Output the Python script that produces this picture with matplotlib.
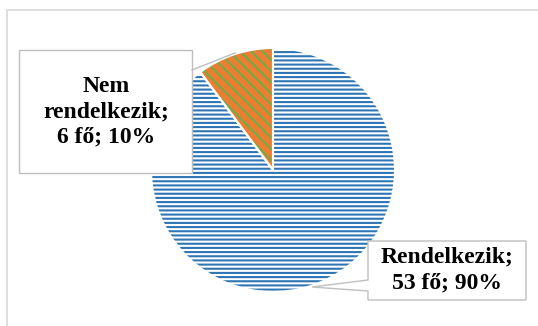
import matplotlib
matplotlib.use("Agg")
import matplotlib.pyplot as plt
from matplotlib.patches import Polygon, Rectangle

# answers: has / does not have
categories = ["Rendelkezik", "Nem rendelkezik"]
counts = [53, 6]
label_lines = [["Rendelkezik;"], ["Nem", "rendelkezik;"]]

BLUE = "#2E75B6"
ORANGE = "#ED7D31"
GREEN = "#70AD47"
BOX_EDGE = "#BFBFBF"
FRAME = "#D9D9D9"

W, H = 538, 326
plt.rcParams["hatch.linewidth"] = 1.5

fig = plt.figure(figsize=(W / 100, H / 100), dpi=100)
fig.patch.set_facecolor("white")
ax = fig.add_axes([0, 0, 1, 1])


def py(y):
    # pixel row (top-down) -> data y (bottom-up)
    return H - y


center = (273, py(170))
radius = 122

# hatched wedges; edgecolor drives the hatch colour
wedges, _ = ax.pie(counts, startangle=90, counterclock=False, center=center,
                   radius=radius, colors=["white", ORANGE],
                   wedgeprops=dict(linewidth=0))
wedges[0].set_edgecolor(BLUE)
wedges[0].set_hatch("----")
wedges[1].set_edgecolor(GREEN)
wedges[1].set_hatch("\\\\\\")

# white separators on top
ax.pie(counts, startangle=90, counterclock=False, center=center, radius=radius,
       colors=["none", "none"],
       wedgeprops=dict(edgecolor="white", linewidth=1.5, fill=False))

ax.set_xlim(0, W)
ax.set_ylim(0, H)
ax.set_aspect("equal")
ax.axis("off")

# chart frame
ax.add_patch(Rectangle((7, py(H + 5)), W + 10, H - 5, facecolor="none",
                       edgecolor=FRAME, linewidth=1.2, zorder=1))

total = sum(counts)
texts = []
for name_lines, n in zip(label_lines, counts):
    pct = round(100 * n / total)
    texts.append("\n".join(name_lines + [f"{n} fő; {pct}%"]))

label_style = dict(ha="center", va="center", fontsize=17, fontweight="bold",
                   family="Liberation Serif", linespacing=1.27, zorder=6)

# callout for the large slice (pointer on the left side)
box_big = [(368, 241), (526, 241), (526, 300), (368, 300),
           (368, 291), (312, 287), (368, 280)]
ax.add_patch(Polygon([(x, py(y)) for x, y in box_big], closed=True,
                     facecolor="white", edgecolor=BOX_EDGE, linewidth=1.0,
                     zorder=5))
ax.text(447, py(270), texts[0], **label_style)

# callout for the small slice
ax.add_patch(Rectangle((19, py(173)), 173, 123, facecolor="white",
                       edgecolor=BOX_EDGE, linewidth=1.0, zorder=5))
ax.plot([192, 235], [py(70), py(53)], color=BOX_EDGE, linewidth=1.0, zorder=5)
ax.text(106, py(112), texts[1], **label_style)

fig.savefig("out.png", dpi=100, facecolor="white")
